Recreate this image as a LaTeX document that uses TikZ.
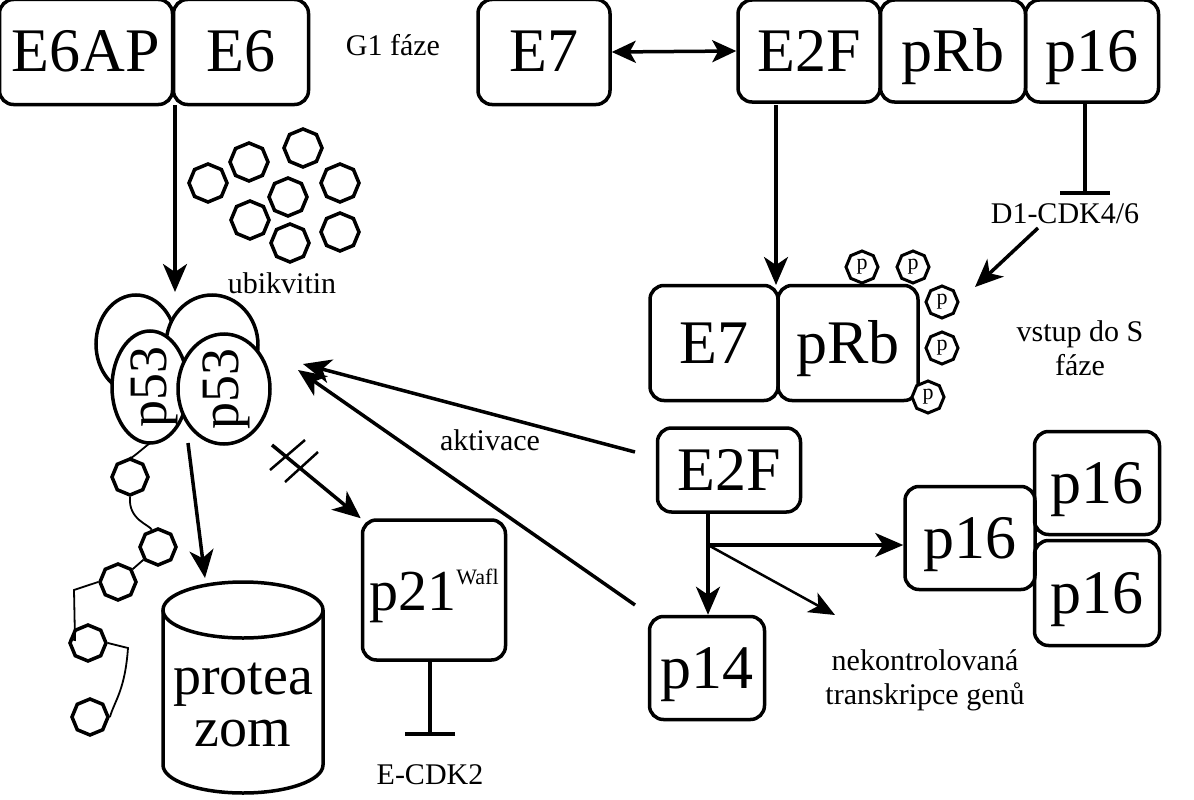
\documentclass[tikz,border=0pt]{standalone}
\usepackage{fontspec}
\setmainfont{Liberation Serif}
\usetikzlibrary{arrows.meta,shapes.geometric}
\begin{document}
\begin{tikzpicture}[x=1pt,y=-1pt,
 box/.style={draw,line width=3.5pt,rounded corners=14pt,inner sep=0pt,text height=52pt,text depth=12pt,font=\fontsize{62}{64}\selectfont},
 lbl/.style={font=\fontsize{30}{34}\selectfont,inner sep=1pt},
 oct/.style={draw,line width=3.5pt,regular polygon,regular polygon sides=8,minimum size=38pt,inner sep=0pt,shape border rotate=22.5},
 poct/.style={draw,line width=3pt,regular polygon,regular polygon sides=8,minimum size=32pt,inner sep=0pt,shape border rotate=22.5,font=\fontsize{22}{22}\selectfont},
 arr/.style={line width=3.5pt,-{Stealth[length=28pt,width=24pt,inset=8pt]}},
 tbar/.style={line width=3.5pt,-{Bar[width=50pt,line width=4pt]}}]
\useasboundingbox (0,0) rectangle (1194,800);
% top row
\node[box,minimum width=173,minimum height=105] (e6ap) at (86,52) {E6AP};
\node[box,minimum width=135,minimum height=105] (e6) at (241,52) {E6};
\node[lbl] (g1) at (393,45) {G1 fáze};
\node[box,minimum width=132,minimum height=105] (e7a) at (544,52) {E7};
\node[box,minimum width=142,minimum height=102] (e2fa) at (809,51) {E2F};
\node[box,minimum width=145,minimum height=102] (prba) at (953,51) {pRb};
\node[box,minimum width=133,minimum height=102] (p16a) at (1092,51) {p16};
\draw[line width=3.5pt,{Stealth[length=24pt,width=22pt,inset=6pt]}-{Stealth[length=24pt,width=22pt,inset=6pt]}] (e7a.east) -- (e2fa.west);
% ubiquitin
\foreach \n/\x/\y in {u1/208/183,u2/249/162,u3/303/148,u4/340/183,u5/288/197,u6/250/220,u7/290/243,u8/340/232}
  \node[oct] (\n) at (\x,\y) {};
\node[lbl] (ubi) at (282,283) {ubikvitin};
% p53 cluster
\node[draw,line width=3.5pt,ellipse,minimum width=80,minimum height=98] (bl) at (136,344) {};
\node[draw,line width=3.5pt,ellipse,fill=white,minimum width=92,minimum height=100] (br) at (212,345) {};
\node[draw,line width=3.5pt,ellipse,fill=white,minimum width=76,minimum height=112] (f1) at (150,387) {};
\node[draw,line width=3.5pt,ellipse,fill=white,minimum width=92,minimum height=110] (f2) at (224,389) {};
\node[rotate=90,font=\fontsize{54}{56}\selectfont] (t1) at (154,387) {p53};
\node[rotate=90,font=\fontsize{54}{56}\selectfont] (t2) at (226,389) {p53};
\coordinate (e6b) at (175,105);
\coordinate (p53top) at (175,292);
\draw[arr] (e6b) -- (p53top);
% chain
\foreach \n/\x/\y in {c1/130/477,c2/158/547,c3/118/582,c4/88/643,c5/90/717}
  \node[oct,minimum size=36pt] (\n) at (\x,\y) {};
\coordinate (cs) at (150,443);
\draw[line width=1.8pt] (cs) .. controls (135,455) and (130,460) .. (c1);
\draw[line width=1.8pt] (c1.south) .. controls (128,520) and (150,525) .. (c2);
\draw[line width=1.8pt] (c2) -- (c3);
\draw[line width=1.8pt] (c3.west) -- (74,590) -- (75,640) -- (c4);
\draw[line width=1.8pt] (c4.east) -- (128,648) .. controls (125,690) and (115,700) .. (c5.east);
% proteasome
\draw[line width=3.5pt] (163,610) -- (163,765) arc[start angle=180,end angle=0,x radius=80,y radius=28] -- (323,610);
\draw[line width=3.5pt] (243,610) ellipse[x radius=80,y radius=28];
\node[font=\fontsize{56}{50}\selectfont,align=center] (prot) at (243,705) {protea\\[2pt]zom};
\coordinate (p53b) at (188,443);
\draw[arr] (p53b) -- (205,578);
% p21
\node[box,minimum width=143,minimum height=140,font=\fontsize{58}{60}\selectfont] (p21) at (434,590) {p21\raisebox{26pt}{\fontsize{22}{22}\selectfont Wafl}};
\coordinate (cx) at (272,445);
\draw[arr] (cx) -- (p21.north west);
\draw[line width=2.5pt] (270,470) -- (305,440) (285,482) -- (318,452);
\coordinate (ecdk) at (430,736);
\draw[tbar] (p21.south -| ecdk) -- (ecdk);
\node[lbl] (ecdklbl) at (430,775) {E-CDK2};
% right middle E7 pRb
\node[box,minimum width=128,minimum height=115] (e7b) at (714,343) {E7};
\node[box,minimum width=140,minimum height=115] (prbb) at (848,343) {pRb};
\foreach \n/\x/\y in {P1/862/267,P2/913/267,P3/942/302,P4/942/348,P5/928/397}
  \node[poct,fill=white] (\n) at (\x,\y) {p};
\draw[arr] (776,105) -- (776,285);
\coordinate (d1bar) at (1085,195);
\draw[tbar] (p16a.south -| d1bar) -- (d1bar);
\node[lbl] (d1) at (1065,214) {D1-CDK4/6};
\draw[arr] (1038,228) -- (975,287);
\node[lbl,align=center] (vs) at (1080,348) {vstup do S\\fáze};
% E2F lower
\node[box,minimum width=143,minimum height=84] (e2fb) at (729,470) {E2F};
\node[lbl] (akt) at (490,440) {aktivace};
\draw[arr] (635,452) -- (303,364);
\node[box,minimum width=115,minimum height=103] (p14) at (707,668) {p14};
\draw[arr] (635,605) -- (298,370);
\coordinate (fork) at (708,545);
\draw[line width=3.5pt] (e2fb.south -| fork) -- (fork);
\node[box,minimum width=130,minimum height=103] (p16m) at (970,538) {p16};
\node[box,minimum width=125,minimum height=103] (p16u) at (1097,483) {p16};
\node[box,minimum width=125,minimum height=105] (p16l) at (1097,593) {p16};
\draw[arr] (fork) -- (p16m.west |- fork);
\draw[arr] (fork) -- (p14.north -| fork);
\draw[line width=2.5pt,-{Stealth[length=26pt,width=22pt,inset=7pt]}] (fork) -- (835,615);
\node[lbl,align=center] (nek) at (925,680) {nekontrolovaná\\transkripce genů};
\end{tikzpicture}
\end{document}
